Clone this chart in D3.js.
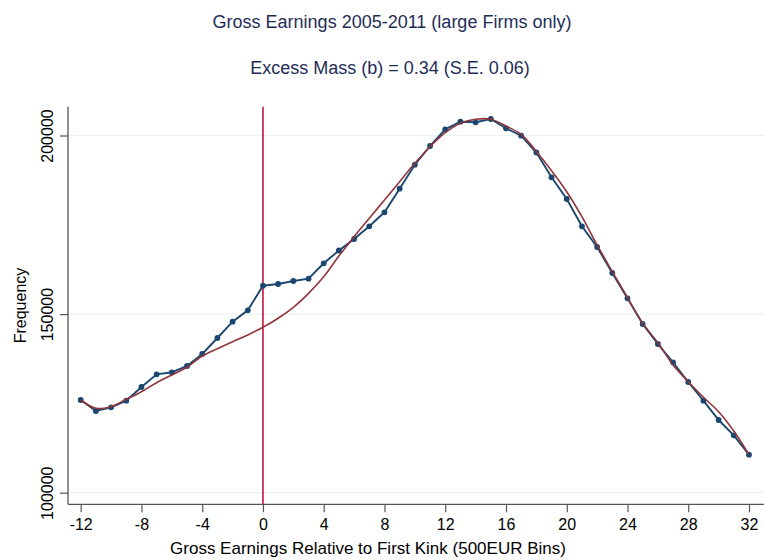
<!DOCTYPE html>
<html>
<head>
<meta charset="utf-8">
<script src="https://cdn.jsdelivr.net/npm/d3@7"></script>
<style>
  html, body { margin: 0; padding: 0; background: #fff; }
  svg { display: block; font-family: "Liberation Sans", Arial, sans-serif; }
</style>
</head>
<body>
<svg id="chart" width="764" height="560"></svg>
<script>
// ---- data ----
const bins = d3.range(-12, 33);
const observed = [
  125950, 122870, 123910, 125760, 129590, 133150, 133710, 135470, 138830, 143310,
  147870, 151060, 157950, 158430, 159270, 159910, 164220, 167810, 171020, 174580,
  178500, 185110, 191830, 197060, 201740, 203860, 203700, 204620, 202020, 199940,
  195240, 188300, 182220, 174580, 168790, 161510, 154420, 147230, 141630, 136510,
  130990, 125760, 120350, 116070, 110640
];
const fitted = [
  125950, 123630, 124080, 126150, 128280, 130800, 132950, 135110, 138270, 140320,
  142270, 144150, 146310, 148830, 151900, 155820, 160470, 166270, 171670, 176820,
  181940, 187070, 192220, 196860, 200780, 203420, 204540, 204540, 202660, 200300,
  195520, 190150, 184270, 177270, 169350, 161870, 154590, 147420, 141990, 135750,
  131080, 126710, 122680, 117270, 110640
];
const xTicks = [-12, -8, -4, 0, 4, 8, 12, 16, 20, 24, 28, 32];
const xTickLabels = ["-12", "-8", "-4", "0", "4", "8", "12", "16", "20", "24", "28", "32"];
const yTicks = [100000, 150000, 200000];
const yTickLabels = ["100000", "150000", "200000"];
const kink = 0;
const title = "Gross Earnings 2005-2011 (large Firms only)";
const subtitle = "Excess Mass (b) = 0.34 (S.E. 0.06)";
const xTitle = "Gross Earnings Relative to First Kink (500EUR Bins)";
const yTitle = "Frequency";

// ---- layout ----
const svg = d3.select("#chart");
const plotLeft = 68, plotTop = 106.7, plotBottom = 504.3, plotRight = 764;

const x = d3.scaleLinear().domain([-12, 32]).range([80.7, 749]);
const y = d3.scaleLinear().domain([100000, 200000]).range([492.7, 135.5]);

const navy = "#1a476f", maroon = "#90353b", crimson = "#c8163e", textCol = "#1e2d57";

// gridlines
svg.append("g").selectAll("line").data(yTicks).join("line")
  .attr("x1", plotLeft).attr("x2", plotRight)
  .attr("y1", d => y(d)).attr("y2", d => y(d))
  .attr("stroke", "#eaf2f3").attr("stroke-width", 1.2);

// axes
const yAxis = d3.axisLeft(y).tickValues(yTicks).tickSize(8).tickPadding(6)
  .tickFormat((d, i) => yTickLabels[i]);
const gy = svg.append("g").attr("transform", `translate(${plotLeft},0)`).call(yAxis);
gy.select(".domain").remove();
gy.append("line").attr("x1", 0).attr("x2", 0).attr("y1", plotTop).attr("y2", plotBottom)
  .attr("stroke", "#555").attr("stroke-width", 1.3);
gy.selectAll(".tick line").attr("stroke", "#555").attr("stroke-width", 1.2);
gy.selectAll(".tick text")
  .attr("transform", "rotate(-90)")
  .attr("x", 0).attr("y", -21)
  .attr("dy", "0.35em")
  .attr("text-anchor", "middle")
  .attr("fill", "#000").style("font-size", "16px");

const xAxis = d3.axisBottom(x).tickValues(xTicks).tickSize(8).tickPadding(6)
  .tickFormat((d, i) => xTickLabels[i]);
const gx = svg.append("g").attr("transform", `translate(0,${plotBottom})`).call(xAxis);
gx.select(".domain").remove();
gx.append("line").attr("x1", plotLeft).attr("x2", plotRight).attr("y1", 0).attr("y2", 0)
  .attr("stroke", "#555").attr("stroke-width", 1.3);
gx.selectAll(".tick line").attr("stroke", "#555").attr("stroke-width", 1.2);
gx.selectAll(".tick text").attr("fill", "#000").style("font-size", "16px")
  .attr("y", 0).attr("dy", "1.6em");

// kink line
svg.append("line")
  .attr("x1", x(kink)).attr("x2", x(kink))
  .attr("y1", plotTop).attr("y2", plotBottom)
  .attr("stroke", crimson).attr("stroke-width", 1.6);

const obsData = bins.map((b, i) => [b, observed[i]]);
const fitData = bins.map((b, i) => [b, fitted[i]]);
const line = d3.line().x(d => x(d[0])).y(d => y(d[1]));

// observed
svg.append("path").datum(obsData).attr("d", line)
  .attr("fill", "none").attr("stroke", navy).attr("stroke-width", 1.9);
svg.append("g").selectAll("circle").data(obsData).join("circle")
  .attr("cx", d => x(d[0])).attr("cy", d => y(d[1])).attr("r", 2.9)
  .attr("fill", navy);

// fitted
svg.append("path").datum(fitData).attr("d", line.curve(d3.curveCatmullRom))
  .attr("fill", "none").attr("stroke", maroon).attr("stroke-width", 1.6);

// titles
svg.append("text").attr("x", 392).attr("y", 22).attr("dy", "0.35em")
  .attr("text-anchor", "middle").attr("fill", textCol).style("font-size", "18px").text(title);
svg.append("text").attr("x", 390).attr("y", 68).attr("dy", "0.35em")
  .attr("text-anchor", "middle").attr("fill", textCol).style("font-size", "18px").text(subtitle);

svg.append("text").attr("x", 368).attr("y", 548).attr("dy", "0.35em")
  .attr("text-anchor", "middle").attr("fill", "#000").style("font-size", "17px").text(xTitle);
svg.append("text").attr("transform", `translate(20,${(plotTop + plotBottom) / 2}) rotate(-90)`)
  .attr("dy", "0.35em").attr("text-anchor", "middle").attr("fill", "#000")
  .style("font-size", "16px").text(yTitle);
</script>
</body>
</html>
